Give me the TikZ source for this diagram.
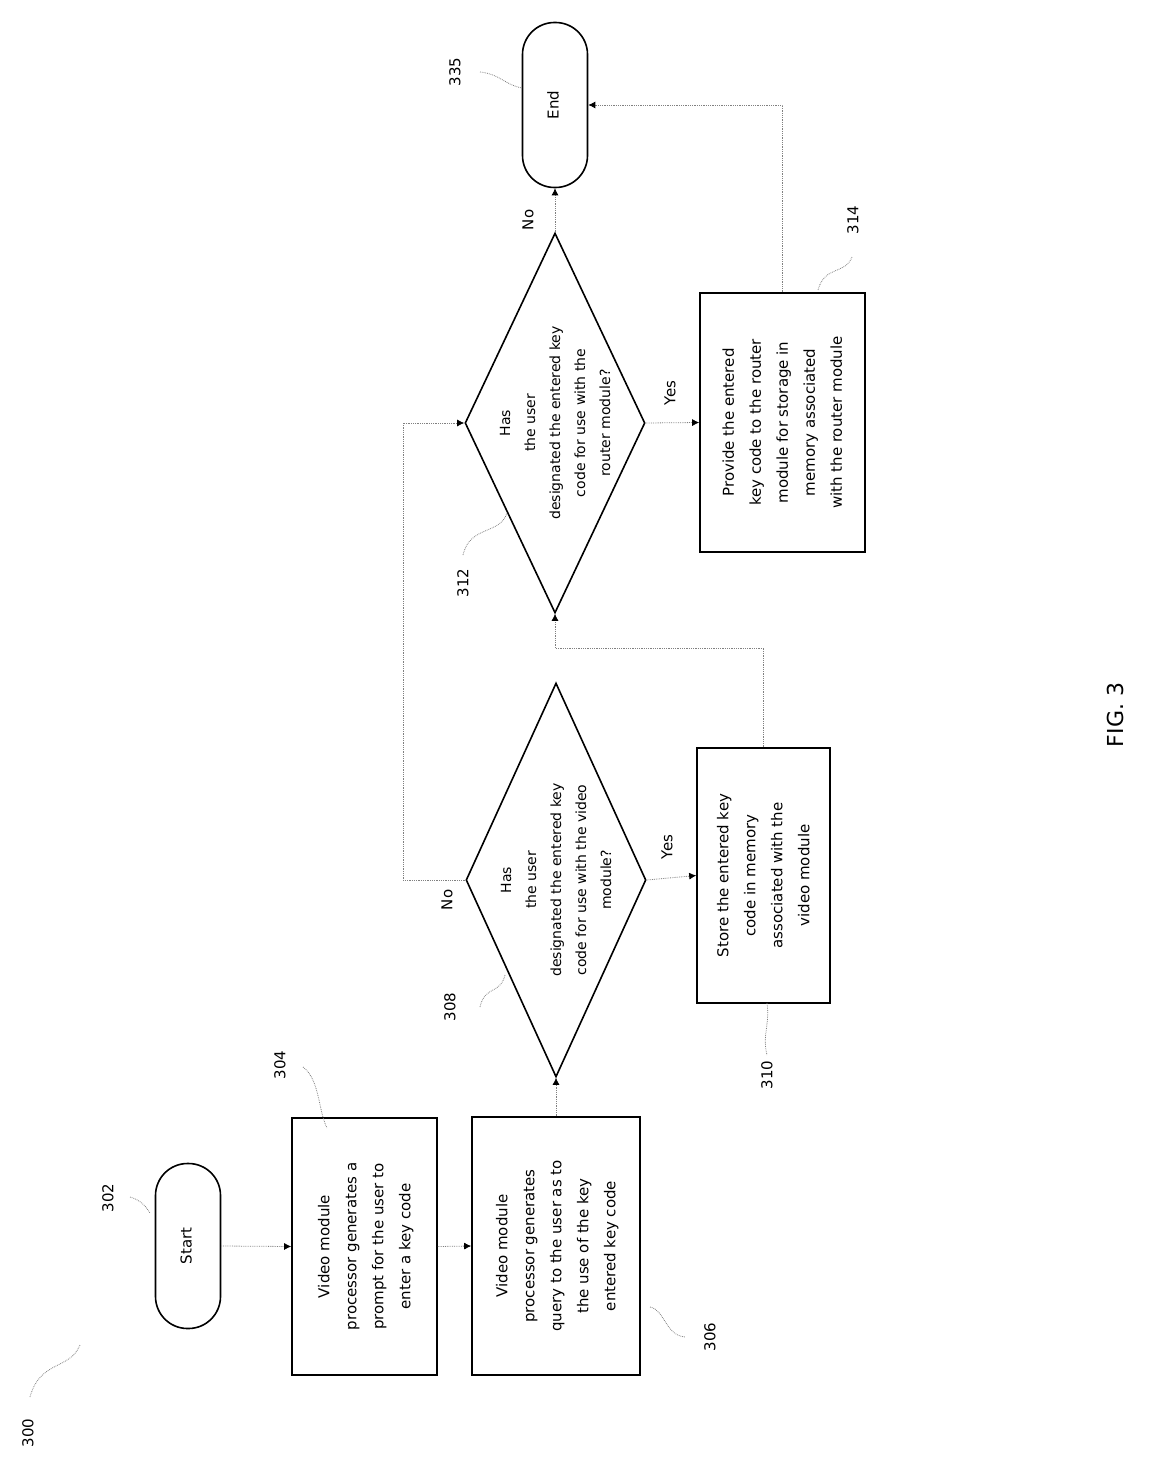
\documentclass[tikz,border=0pt]{standalone}
\usepackage{fontspec}
\setmainfont{DejaVu Sans}
\usetikzlibrary{shapes.geometric,arrows.meta}
\newcommand{\rt}[1]{\rotatebox{90}{\begin{tabular}{c}#1\end{tabular}}}
\begin{document}
\begin{tikzpicture}[x=1pt,y=-1pt,
  box/.style={draw, line width=1.6pt, rectangle, inner sep=0pt, font=\fontsize{15}{27}\selectfont},
  term/.style={draw, line width=1.6pt, rectangle, rounded corners=32pt, inner sep=0pt, font=\fontsize{15}{18}\selectfont},
  dia/.style={draw, line width=1.6pt, diamond, inner sep=0pt, shape aspect=0.46},
  diatext/.style={inner sep=0pt, font=\fontsize{14}{25}\selectfont},
  conn/.style={draw=gray, line width=0.8pt, densely dotted},
  arr/.style={conn, -{Latex[length=7pt,width=7pt,black]}},
  lbl/.style={font=\fontsize{15}{18}\selectfont, inner sep=1pt},
  lead/.style={draw=gray, line width=0.8pt, densely dotted}]
\useasboundingbox (0,0) rectangle (1158,1471);
\node[term, minimum width=65pt, minimum height=165pt] (start) at (188,1246) {\rt{Start}};
\node[box, minimum width=145pt, minimum height=257pt] (b304) at (364.5,1246.5) {\rt{Video module\\processor generates a\\prompt for the user to\\enter a key code}};
\node[box, minimum width=168pt, minimum height=258pt] (b306) at (556,1246) {\rt{Video module\\processor generates\\query to the user as to\\the use of the key\\entered key code}};
\node[dia, minimum width=180pt, minimum height=394pt] (d308) at (556,880) {};
\node[diatext] (t308) at (d308.center) {\rt{Has\\the user\\designated the entered key\\code for use with the video\\module?}};
\node[box, minimum width=133pt, minimum height=255pt] (b310) at (763.5,875.5) {\rt{Store the entered key\\code in memory\\associated with the\\video module}};
\node[dia, minimum width=180pt, minimum height=380pt] (d312) at (555,423) {};
\node[diatext] (t312) at (d312.center) {\rt{Has\\the user\\designated the entered key\\code for use with the\\router module?}};
\node[box, minimum width=165pt, minimum height=259pt] (b314) at (782.5,422.5) {\rt{Provide the entered\\key code to the router\\module for storage in\\memory associated\\with the router module}};
\node[term, minimum width=65pt, minimum height=165pt] (end) at (555,105) {\rt{End}};
\coordinate (c1) at (403,880);
\coordinate (c2) at (403,423);
\coordinate (c3) at (763.5,648);
\coordinate (c4) at (555,648);
\coordinate (c5) at (782.5,105);
\path[arr] (start.east) -- (b304.west);
\path[arr] (b304.east) -- (b306.west);
\path[arr] (b306.north) -- (d308.south);
\path[arr] (d308.west) -- (c1) -- (c2) -- (d312.west);
\path[arr] (d308.east) -- (b310.west);
\path[conn] (b310.north) -- (c3) -- (c4);
\path[arr] (c4) -- (d312.south);
\path[arr] (d312.east) -- (b314.west);
\path[arr] (d312.north) -- (end.south);
\path[arr] (b314.north) -- (c5) -- (end.east);
\node[lbl] (no1) at (447,900) {\rotatebox{90}{No}};
\node[lbl] (yes1) at (667,847) {\rotatebox{90}{Yes}};
\node[lbl] (yes2) at (670,393) {\rotatebox{90}{Yes}};
\node[lbl] (no2) at (528,220) {\rotatebox{90}{No}};
\node[lbl] (l300) at (28,1433) {\rotatebox{90}{300}};
\node[lbl] (l302) at (108,1198) {\rotatebox{90}{302}};
\node[lbl] (l304) at (280,1065) {\rotatebox{90}{304}};
\node[lbl] (l306) at (710,1337) {\rotatebox{90}{306}};
\node[lbl] (l308) at (450,1007) {\rotatebox{90}{308}};
\node[lbl] (l310) at (767,1075) {\rotatebox{90}{310}};
\node[lbl] (l312) at (463,583) {\rotatebox{90}{312}};
\node[lbl] (l314) at (853,220) {\rotatebox{90}{314}};
\node[lbl] (l335) at (455,72) {\rotatebox{90}{335}};
\node[font=\fontsize{22}{26}\selectfont] (fig) at (1115,715) {\rotatebox{90}{FIG. 3}};
\path[lead] (30,1397) .. controls (40,1360) and (70,1370) .. (80,1345);
\path[lead] (130,1197) .. controls (140,1200) and (145,1205) .. (150,1213);
\path[lead] (303,1067) .. controls (320,1080) and (318,1110) .. (327,1128);
\path[lead] (650,1307) .. controls (665,1310) and (665,1335) .. (685,1337);
\path[lead] (480,1007) .. controls (485,985) and (500,995) .. (505,975);
\path[lead] (767,1003) .. controls (770,1025) and (762,1035) .. (767,1055);
\path[lead] (463,555) .. controls (470,525) and (500,535) .. (507,513);
\path[lead] (818,290) .. controls (825,265) and (845,275) .. (852,257);
\path[lead] (480,72) .. controls (500,74) and (505,85) .. (522,88);
\end{tikzpicture}
\end{document}
